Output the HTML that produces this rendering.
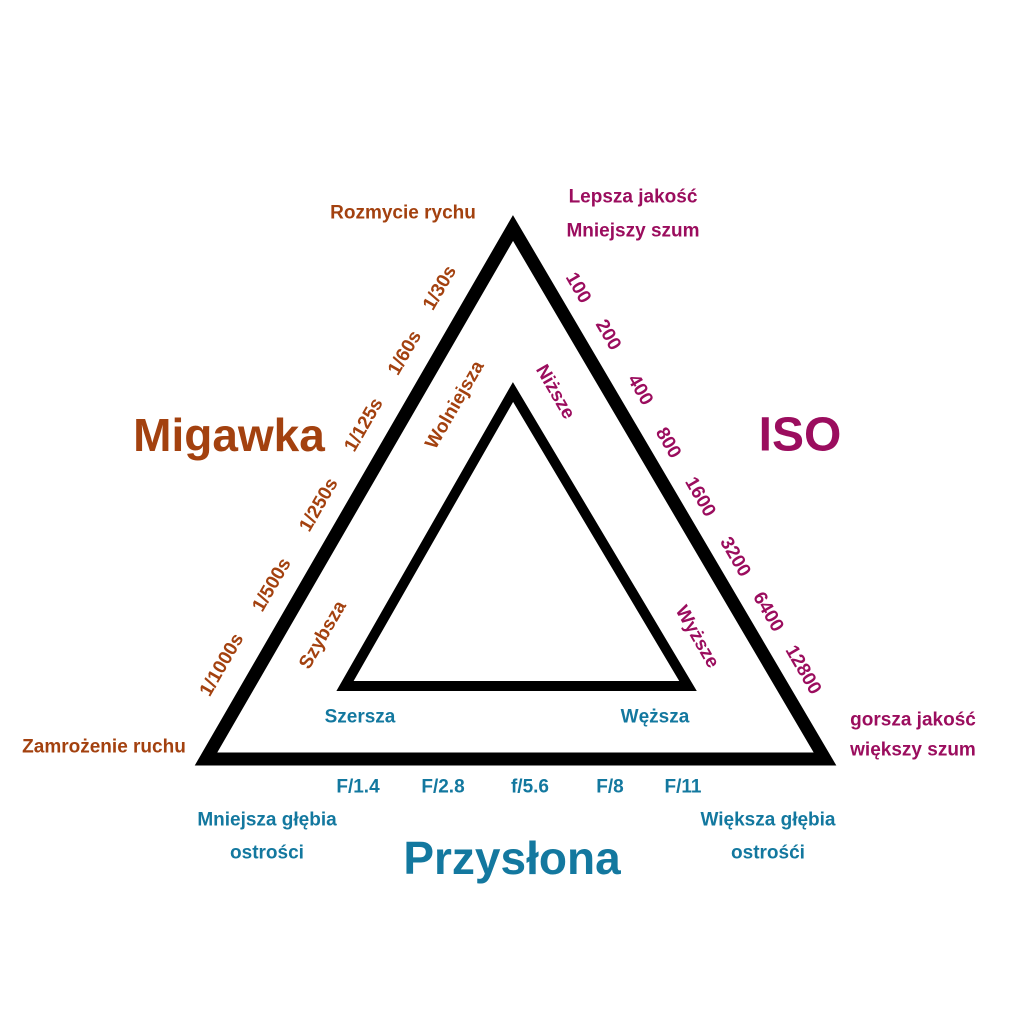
<!DOCTYPE html>
<html><head><meta charset="utf-8"><style>
html,body{margin:0;padding:0;background:#fff;}
svg{display:block;}
text{font-family:"Liberation Sans",sans-serif;font-weight:bold;text-anchor:middle;dominant-baseline:central;}
.b{fill:#a3410f;} .m{fill:#9b0d5e;} .c{fill:#13789f;}
.s{font-size:19px;}
</style></head><body>
<svg width="1024" height="1024" viewBox="0 0 1024 1024">
<polygon points="513,228 206,759 825,759" fill="none" stroke="#000" stroke-width="13" stroke-linejoin="miter"/>
<polygon points="513,392 345,686 688,686" fill="none" stroke="#000" stroke-width="10" stroke-linejoin="miter"/>

<g class="b s">
<text x="440" y="288" transform="rotate(-60 440 288)">1/30s</text>
<text x="405" y="353" transform="rotate(-60 405 353)">1/60s</text>
<text x="364" y="425" transform="rotate(-60 364 425)">1/125s</text>
<text x="319" y="505" transform="rotate(-60 319 505)">1/250s</text>
<text x="272" y="585" transform="rotate(-60 272 585)">1/500s</text>
<text x="222" y="665" transform="rotate(-60 222 665)">1/1000s</text>
<text x="455" y="405" transform="rotate(-60 455 405)">Wolniejsza</text>
<text x="323" y="635" transform="rotate(-60 323 635)">Szybsza</text>
<text x="403" y="213">Rozmycie rychu</text>
<text x="104" y="747">Zamrożenie ruchu</text>
</g>
<text class="b" x="229" y="435" font-size="46">Migawka</text>

<g class="m s">
<text x="578" y="288" transform="rotate(60 578 288)">100</text>
<text x="608" y="335" transform="rotate(60 608 335)">200</text>
<text x="640" y="390" transform="rotate(60 640 390)">400</text>
<text x="668" y="443" transform="rotate(60 668 443)">800</text>
<text x="700" y="497" transform="rotate(60 700 497)">1600</text>
<text x="735" y="557" transform="rotate(60 735 557)">3200</text>
<text x="768" y="612" transform="rotate(60 768 612)">6400</text>
<text x="803" y="670" transform="rotate(60 803 670)">12800</text>
<text x="555" y="392" transform="rotate(60 555 392)">Niższe</text>
<text x="697" y="637" transform="rotate(60 697 637)">Wyższe</text>
<text x="633" y="197">Lepsza jakość</text>
<text x="633" y="231">Mniejszy szum</text>
<text x="913" y="720">gorsza jakość</text>
<text x="913" y="750">większy szum</text>
</g>
<text class="m" x="800" y="435" font-size="48">ISO</text>

<g class="c s">
<text x="358" y="787">F/1.4</text>
<text x="443" y="787">F/2.8</text>
<text x="530" y="787">f/5.6</text>
<text x="610" y="787">F/8</text>
<text x="683" y="787">F/11</text>
<text x="360" y="717">Szersza</text>
<text x="655" y="717">Węższa</text>
<text x="267" y="820">Mniejsza głębia</text>
<text x="267" y="853">ostrości</text>
<text x="768" y="820">Większa głębia</text>
<text x="768" y="853">ostrośći</text>
</g>
<text class="c" x="512" y="858" font-size="46">Przysłona</text>
</svg>
</body></html>
